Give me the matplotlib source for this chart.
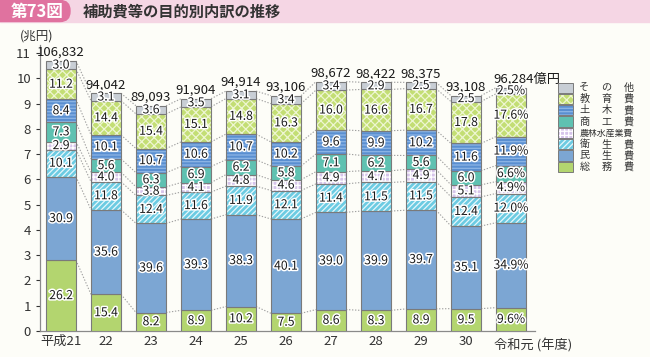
import matplotlib
matplotlib.use("Agg")
import numpy as np
import matplotlib.pyplot as plt
import matplotlib.patheffects as pe
from matplotlib.patches import Rectangle, FancyBboxPatch

plt.rcParams['font.family'] = ['Noto Sans CJK JP', 'DejaVu Sans']
plt.rcParams['hatch.linewidth'] = 0.9

# ── data ──────────────────────────────────────────────────────────────────────
years = ["平成21", "22", "23", "24", "25", "26", "27", "28", "29", "30", "令和元"]
totals = [106832, 94042, 89093, 91904, 94914, 93106, 98672, 98422, 98375, 93108, 96284]  # 億円

categories = ["総務費", "民生費", "衛生費", "農林水産業費", "商工費", "土木費", "教育費", "その他"]
soumu   = [26.2, 15.4, 8.2, 8.9, 10.2, 7.5, 8.6, 8.3, 8.9, 9.5, 9.6]
minsei  = [30.9, 35.6, 39.6, 39.3, 38.3, 40.1, 39.0, 39.9, 39.7, 35.1, 34.9]
eisei   = [10.1, 11.8, 12.4, 11.6, 11.9, 12.1, 11.4, 11.5, 11.5, 12.4, 12.0]
nourin  = [2.9, 4.0, 3.8, 4.1, 4.8, 4.6, 4.9, 4.7, 4.9, 5.1, 4.9]
shoukou = [7.3, 5.6, 6.3, 6.9, 6.2, 5.8, 7.1, 6.2, 5.6, 6.0, 6.6]
doboku  = [8.4, 10.1, 10.7, 10.6, 10.7, 10.2, 9.6, 9.9, 10.2, 11.6, 11.9]
kyouiku = [11.2, 14.4, 15.4, 15.1, 14.8, 16.3, 16.0, 16.6, 16.7, 17.8, 17.6]
sonota  = [3.0, 3.1, 3.6, 3.5, 3.1, 3.4, 3.4, 2.9, 2.5, 2.5, 2.5]
shares = [soumu, minsei, eisei, nourin, shoukou, doboku, kyouiku, sonota]

# (face, hatch colour, hatch)
styles = [
    ("#b3d56f", None, None),
    ("#7ca6d3", None, None),
    ("#6ccbe2", "#e6f7fb", "//////"),
    ("#d6c4ea", "#ffffff", "++++"),
    ("#5fc1b1", None, None),
    ("#5a8fd1", "#8db5e5", "-----"),
    ("#c3de74", "#eef6d2", "xxxx"),
    ("#c8ced5", None, None),
]
legend_labels = ["そ の 他", "教 育 費", "土 木 費", "商 工 費", "農林水産業費", "衛 生 費", "民 生 費", "総 務 費"]

BG = "#fdfdf8"
EDGE = "#7a7a7a"
stroke = [pe.withStroke(linewidth=2.2, foreground="white")]

fig = plt.figure(figsize=(6.5, 3.57), dpi=100, facecolor=BG)

# ── main axes ────────────────────────────────────────────────────────────────
ax = fig.add_axes([40 / 650, 1 - 331 / 357, 495 / 650, 285.6 / 357])
ax.set_facecolor("none")

x = np.arange(len(years))
w = 0.667
heights = np.array(totals) / 10000.0
bottoms = np.zeros(len(years))
bounds = [bottoms.copy()]

for k, (vals, (face, hcol, hatch)) in enumerate(zip(shares, styles)):
    h = heights * np.array(vals) / 100.0
    if hatch:
        ax.bar(x, h, w, bottom=bottoms, color=face, edgecolor=hcol, hatch=hatch,
               linewidth=0, zorder=2)
        ax.bar(x, h, w, bottom=bottoms, color="none", edgecolor=EDGE,
               linewidth=0.8, zorder=3)
    else:
        ax.bar(x, h, w, bottom=bottoms, color=face, edgecolor=EDGE,
               linewidth=0.8, zorder=3)
    for i in range(len(years)):
        txt = f"{vals[i]:.1f}" + ("%" if i == len(years) - 1 else "")
        ax.text(x[i], bottoms[i] + h[i] / 2, txt, ha="center", va="center",
                fontsize=8.8, color="#1a1a1a", zorder=5, path_effects=stroke)
    bottoms = bottoms + h
    bounds.append(bottoms.copy())

# dotted connectors between neighbouring bars
for b in bounds[1:]:
    for i in range(len(years) - 1):
        ax.plot([x[i] + w / 2, x[i + 1] - w / 2], [b[i], b[i + 1]],
                ls=(0, (1.2, 1.5)), color="#a0a0a0", lw=0.8, zorder=1)

# totals above bars
for i in range(len(years)):
    if i == len(years) - 1:
        ax.text(x[i] - w / 2 - 0.05, heights[i] + 0.08, f"{totals[i]:,}億円",
                ha="left", va="bottom", fontsize=9.5, color="#1a1a1a")
    else:
        ax.text(x[i], heights[i] + 0.08, f"{totals[i]:,}", ha="center",
                va="bottom", fontsize=9.5, color="#1a1a1a")

ax.set_xlim(-0.467, 10.533)
ax.set_ylim(0, 11.3)
ax.set_yticks(range(0, 12))
ax.tick_params(axis="y", labelsize=9.5, colors="#333333", length=3, width=0.8)
ax.tick_params(axis="x", length=0, labelsize=9.5, colors="#333333", pad=3)
ax.set_xticks(x[:-1])
ax.set_xticklabels(years[:-1])
ax.text(x[-1] - w / 2 - 0.05, -0.3, "令和元 (年度)", ha="left", va="top",
        fontsize=9.5, color="#333333")
for s in ["top", "right"]:
    ax.spines[s].set_visible(False)
for s in ["left", "bottom"]:
    ax.spines[s].set_color("#8a8a8a")
    ax.spines[s].set_linewidth(0.9)

# ── overlay: title band + legend in pixel coords ─────────────────────────────
ov = fig.add_axes([0, 0, 1, 1], zorder=10)
ov.set_xlim(0, 650)
ov.set_ylim(357, 0)
ov.axis("off")
ov.patch.set_visible(False)

ov.add_patch(Rectangle((0, 0), 650, 22, color="#f5d6e4", zorder=1))
ov.add_patch(FancyBboxPatch((-20, 0.5), 90, 21, boxstyle="round,pad=0,rounding_size=10",
                            color="#e0729f", zorder=2))
ov.text(37, 11.5, "第73図", ha="center", va="center", fontsize=12,
        color="white", fontweight="bold", zorder=3)
ov.text(83, 11.5, "補助費等の目的別内訳の推移", ha="left", va="center",
        fontsize=11, color="#333333", fontweight="bold", zorder=3)
ov.text(37, 36, "(兆円)", ha="center", va="center", fontsize=9, color="#333333")

row_h = 11.3
for r, lab in enumerate(legend_labels):
    face, hcol, hatch = styles[len(styles) - 1 - r]
    y0 = 82.5 + r * row_h
    if hatch:
        ov.add_patch(Rectangle((558, y0), 15, row_h - 1, facecolor=face,
                               edgecolor=hcol, hatch=hatch, linewidth=0))
        ov.add_patch(Rectangle((558, y0), 15, row_h - 1, facecolor="none",
                               edgecolor=EDGE, linewidth=0.7))
    else:
        ov.add_patch(Rectangle((558, y0), 15, row_h - 1, facecolor=face,
                               edgecolor=EDGE, linewidth=0.7))
    chars = lab.replace(" ", "")
    cy = y0 + (row_h - 1) / 2
    if len(chars) == 3:
        for c, cx in zip(chars, [584.5, 606.5, 628.5]):
            ov.text(cx, cy, c, ha="center", va="center",
                    fontsize=7.3, color="#333333")
    else:
        ov.text(606.5, cy, chars, ha="center", va="center",
                fontsize=6.4, color="#333333")

fig.savefig("out.png", dpi=100, facecolor=BG)
